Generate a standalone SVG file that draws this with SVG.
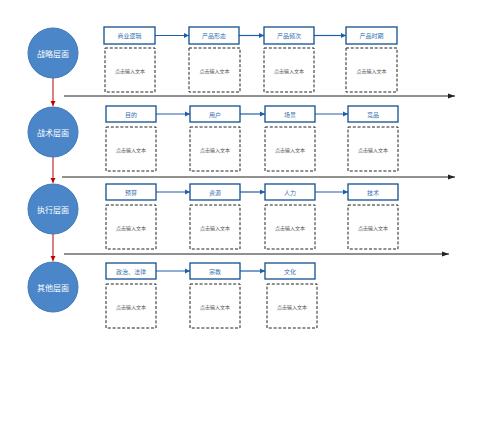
<svg xmlns="http://www.w3.org/2000/svg" width="503" height="433" viewBox="0 0 503 433">
<defs>
<style>
.circ{fill:#4a86c8;stroke:#3f78b8;stroke-width:1}
.ct{font-family:"Noto Sans CJK SC","Noto Sans",sans-serif;font-size:8px;fill:#ffffff;text-anchor:middle;dominant-baseline:central}
.tb{fill:#ffffff;stroke:#114f8c;stroke-width:1.3}
.tt{font-family:"Noto Sans CJK SC","Noto Sans",sans-serif;font-size:6px;fill:#3a72b0;text-anchor:middle;dominant-baseline:central}
.db{fill:#ffffff;stroke:#222222;stroke-width:1;stroke-dasharray:3,1.8}
.dt{font-family:"Noto Sans CJK SC","Noto Sans",sans-serif;font-size:5px;fill:#555555;text-anchor:middle;dominant-baseline:central}
.bl{stroke:#1f5fa8;stroke-width:1.2;fill:none}
.hl{stroke:#222222;stroke-width:1;fill:none}
.rl{stroke:#c00000;stroke-width:1;fill:none}
</style>
<marker id="ab" markerWidth="6" markerHeight="6" refX="5" refY="3" orient="auto" markerUnits="userSpaceOnUse"><path d="M0,0.5 L5,3 L0,5.5 z" fill="#1f5fa8"/></marker>
<marker id="ak" markerWidth="8" markerHeight="6" refX="7" refY="3" orient="auto" markerUnits="userSpaceOnUse"><path d="M0,0.5 L7,3 L0,5.5 z" fill="#222222"/></marker>
<marker id="ar" markerWidth="6" markerHeight="6" refX="5" refY="3" orient="auto" markerUnits="userSpaceOnUse"><path d="M0,0.5 L5,3 L0,5.5 z" fill="#c00000"/></marker>
</defs>
<rect width="503" height="433" fill="#ffffff"/>
<g id="connectors">
<line class="rl" x1="53" y1="78" x2="53" y2="106" marker-end="url(#ar)"/>
<line class="rl" x1="53" y1="157" x2="53" y2="183" marker-end="url(#ar)"/>
<line class="rl" x1="53" y1="234" x2="53" y2="261" marker-end="url(#ar)"/>
<line class="hl" x1="64" y1="96" x2="455" y2="96" marker-end="url(#ak)"/>
<line class="hl" x1="62" y1="177" x2="455" y2="177" marker-end="url(#ak)"/>
<line class="hl" x1="64" y1="254" x2="449" y2="254" marker-end="url(#ak)"/>
<line class="bl" x1="155" y1="35.5" x2="189" y2="35.5" marker-end="url(#ab)"/>
<line class="bl" x1="239" y1="35.5" x2="264" y2="35.5" marker-end="url(#ab)"/>
<line class="bl" x1="314" y1="35.5" x2="346" y2="35.5" marker-end="url(#ab)"/>
<line class="bl" x1="156" y1="114" x2="190" y2="114" marker-end="url(#ab)"/>
<line class="bl" x1="240" y1="114" x2="265" y2="114" marker-end="url(#ab)"/>
<line class="bl" x1="315" y1="114" x2="348" y2="114" marker-end="url(#ab)"/>
<line class="bl" x1="156" y1="192" x2="190" y2="192" marker-end="url(#ab)"/>
<line class="bl" x1="240" y1="192" x2="265" y2="192" marker-end="url(#ab)"/>
<line class="bl" x1="315" y1="192" x2="348" y2="192" marker-end="url(#ab)"/>
<line class="bl" x1="156" y1="271" x2="190" y2="271" marker-end="url(#ab)"/>
<line class="bl" x1="240" y1="271" x2="265" y2="271" marker-end="url(#ab)"/>
</g>
<g id="c1"><circle class="circ" cx="53" cy="53" r="25"/><text class="ct" x="53" y="53">战略层面</text></g>
<g id="c2"><circle class="circ" cx="53" cy="132" r="25"/><text class="ct" x="53" y="132">战术层面</text></g>
<g id="c3"><circle class="circ" cx="53" cy="209" r="25"/><text class="ct" x="53" y="209">执行层面</text></g>
<g id="c4"><circle class="circ" cx="53" cy="287" r="25"/><text class="ct" x="53" y="287">其他层面</text></g>

<g id="r1a"><rect class="tb" x="104" y="27" width="51" height="17"/><text class="tt" x="129.5" y="35.5">商业逻辑</text></g>
<g id="r1b"><rect class="tb" x="189" y="27" width="50" height="17"/><text class="tt" x="214" y="35.5">产品形态</text></g>
<g id="r1c"><rect class="tb" x="264" y="27" width="50" height="17"/><text class="tt" x="289" y="35.5">产品频次</text></g>
<g id="r1d"><rect class="tb" x="346" y="27" width="51" height="17"/><text class="tt" x="371.5" y="35.5">产品时期</text></g>
<g id="d1a"><rect class="db" x="105" y="48" width="50" height="44"/><text class="dt" x="130" y="70">点击输入文本</text></g>
<g id="d1b"><rect class="db" x="189" y="48" width="51" height="44"/><text class="dt" x="214.5" y="70">点击输入文本</text></g>
<g id="d1c"><rect class="db" x="264" y="48" width="50" height="44"/><text class="dt" x="289" y="70">点击输入文本</text></g>
<g id="d1d"><rect class="db" x="346" y="48" width="51" height="44"/><text class="dt" x="371.5" y="70">点击输入文本</text></g>

<g id="r2a"><rect class="tb" x="106" y="106" width="50" height="16"/><text class="tt" x="131" y="114">目的</text></g>
<g id="r2b"><rect class="tb" x="190" y="106" width="50" height="16"/><text class="tt" x="215" y="114">用户</text></g>
<g id="r2c"><rect class="tb" x="265" y="106" width="50" height="16"/><text class="tt" x="290" y="114">场景</text></g>
<g id="r2d"><rect class="tb" x="348" y="106" width="50" height="16"/><text class="tt" x="373" y="114">竞品</text></g>
<g id="d2a"><rect class="db" x="106" y="127" width="50" height="44"/><text class="dt" x="131" y="149">点击输入文本</text></g>
<g id="d2b"><rect class="db" x="190" y="127" width="50" height="44"/><text class="dt" x="215" y="149">点击输入文本</text></g>
<g id="d2c"><rect class="db" x="265" y="127" width="50" height="44"/><text class="dt" x="290" y="149">点击输入文本</text></g>
<g id="d2d"><rect class="db" x="348" y="127" width="50" height="44"/><text class="dt" x="373" y="149">点击输入文本</text></g>

<g id="r3a"><rect class="tb" x="106" y="184" width="50" height="16"/><text class="tt" x="131" y="192">预算</text></g>
<g id="r3b"><rect class="tb" x="190" y="184" width="50" height="16"/><text class="tt" x="215" y="192">资源</text></g>
<g id="r3c"><rect class="tb" x="265" y="184" width="50" height="16"/><text class="tt" x="290" y="192">人力</text></g>
<g id="r3d"><rect class="tb" x="348" y="184" width="50" height="16"/><text class="tt" x="373" y="192">技术</text></g>
<g id="d3a"><rect class="db" x="106" y="205" width="50" height="44"/><text class="dt" x="131" y="227">点击输入文本</text></g>
<g id="d3b"><rect class="db" x="190" y="205" width="50" height="44"/><text class="dt" x="215" y="227">点击输入文本</text></g>
<g id="d3c"><rect class="db" x="265" y="205" width="50" height="44"/><text class="dt" x="290" y="227">点击输入文本</text></g>
<g id="d3d"><rect class="db" x="348" y="205" width="50" height="44"/><text class="dt" x="373" y="227">点击输入文本</text></g>

<g id="r4a"><rect class="tb" x="106" y="263" width="50" height="16"/><text class="tt" x="131" y="271">政治、法律</text></g>
<g id="r4b"><rect class="tb" x="190" y="263" width="50" height="16"/><text class="tt" x="215" y="271">宗教</text></g>
<g id="r4c"><rect class="tb" x="265" y="263" width="50" height="16"/><text class="tt" x="290" y="271">文化</text></g>
<g id="d4a"><rect class="db" x="106" y="284" width="50" height="44"/><text class="dt" x="131" y="306">点击输入文本</text></g>
<g id="d4b"><rect class="db" x="190" y="284" width="50" height="44"/><text class="dt" x="215" y="306">点击输入文本</text></g>
<g id="d4c"><rect class="db" x="267" y="284" width="50" height="44"/><text class="dt" x="292" y="306">点击输入文本</text></g>
</svg>
